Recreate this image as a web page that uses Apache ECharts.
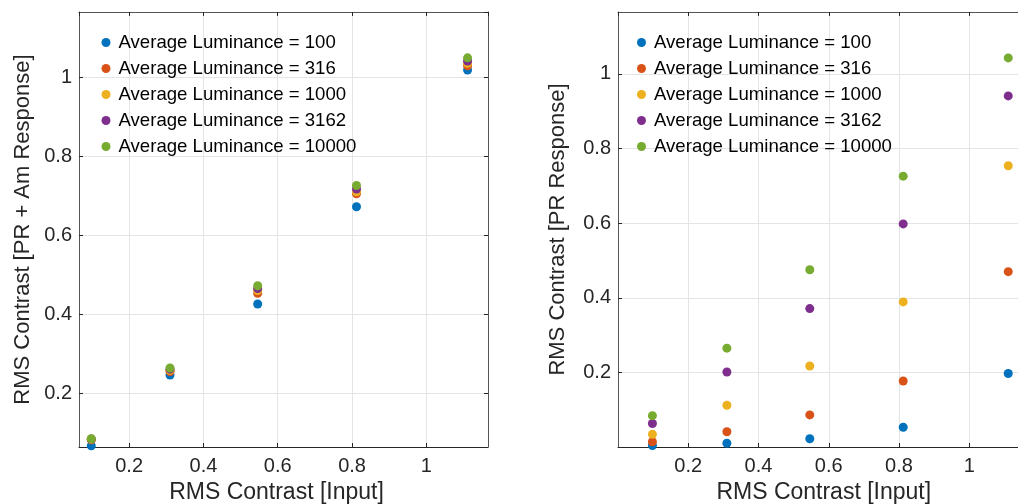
<!DOCTYPE html>
<html>
<head>
<meta charset="utf-8">
<script src="https://cdn.jsdelivr.net/npm/echarts@6/dist/echarts.min.js"></script>
<style>html,body{margin:0;padding:0;background:#fff}#c{width:1018px;height:504px}</style>
</head>
<body>
<div id="c"></div>
<script>
// ---- data ----
const seriesNames = ['Average Luminance = 100','Average Luminance = 316','Average Luminance = 1000','Average Luminance = 3162','Average Luminance = 10000'];
const contrastInput = [0.098, 0.31, 0.546, 0.812, 1.111];
// left panel: PR + Am response
const leftL100   = [0.068, 0.247, 0.427, 0.673, 1.019];
const leftL316   = [0.083, 0.256, 0.454, 0.706, 1.030];
const leftL1000  = [0.084, 0.259, 0.461, 0.711, 1.036];
const leftL3162  = [0.085, 0.262, 0.466, 0.718, 1.042];
const leftL10000 = [0.086, 0.265, 0.473, 0.727, 1.050];
// right panel: PR response
const rightL100   = [0.004, 0.010, 0.022, 0.053, 0.197];
const rightL316   = [0.014, 0.041, 0.086, 0.177, 0.470];
const rightL1000  = [0.034, 0.112, 0.217, 0.389, 0.754];
const rightL3162  = [0.063, 0.201, 0.371, 0.598, 0.941];
const rightL10000 = [0.084, 0.265, 0.475, 0.726, 1.043];
const leftSets = [leftL100, leftL316, leftL1000, leftL3162, leftL10000];
const rightSets = [rightL100, rightL316, rightL1000, rightL3162, rightL10000];
const colors = ['#0072BD','#D95319','#EDB120','#7E2F8E','#77AC30'];

const FONT = 'Liberation Sans, Arial, Helvetica, sans-serif';
const AX = '#262626';
const GRIDC = '#e4e4e4';

function pts(xs, ys){ return xs.map((x,i)=>[x, ys[i]]); }
function fmt(v){ const r=Math.round(v*10)/10; return (Math.abs(v-r)<1e-6 && Math.abs(r*5-Math.round(r*5))<1e-6) ? String(r) : ''; }
function tickOpts(min, interval){
  // left panel: min is not a multiple of 0.2, so let the scale pick nice ticks itself
  return interval ? {interval} : {splitNumber:5};
}

function mainX(gridIndex, min, max, interval, shift){
  return Object.assign({
    gridIndex, type:'value', min, max, position:'bottom',
    name:'RMS Contrast [Input]', nameLocation:'middle', nameGap:31,
    nameTextStyle:{fontFamily:FONT, fontSize:23, color:AX, padding:[0, shift*2, 0, 0]},
    axisLine:{show:true, onZero:false, lineStyle:{color:AX, width:1}},
    axisTick:{show:true, inside:true, length:4, lineStyle:{color:AX}},
    axisLabel:{fontFamily:FONT, fontSize:20, color:AX, margin:9, showMinLabel:false, showMaxLabel:false, formatter:fmt},
    splitLine:{show:true, lineStyle:{color:GRIDC, width:1}}
  }, tickOpts(min, interval));
}
function topX(gridIndex, min, max, interval){
  return Object.assign({
    gridIndex, type:'value', min, max, position:'top',
    axisLine:{show:true, onZero:false, lineStyle:{color:'#555', width:1}},
    axisTick:{show:true, inside:true, length:4, lineStyle:{color:AX}},
    axisLabel:{show:false}, splitLine:{show:false}
  }, tickOpts(min, interval));
}
function mainY(gridIndex, min, max, interval, name, gap){
  return Object.assign({
    gridIndex, type:'value', min, max, position:'left',
    name, nameLocation:'middle', nameGap:gap, nameRotate:90,
    nameTextStyle:{fontFamily:FONT, fontSize:22, color:AX},
    axisLine:{show:true, onZero:false, lineStyle:{color:'#555', width:1}},
    axisTick:{show:true, inside:true, length:4, lineStyle:{color:AX}},
    axisLabel:{fontFamily:FONT, fontSize:20, color:AX, margin:7, showMinLabel:false, showMaxLabel:false, formatter:fmt},
    splitLine:{show:true, lineStyle:{color:GRIDC, width:1}}
  }, tickOpts(min, interval));
}
function rightY(gridIndex, min, max, interval){
  return Object.assign({
    gridIndex, type:'value', min, max, position:'right',
    axisLine:{show:true, onZero:false, lineStyle:{color:'#555', width:1}},
    axisTick:{show:true, inside:true, length:4, lineStyle:{color:AX}},
    axisLabel:{show:false}, splitLine:{show:false}
  }, tickOpts(min, interval));
}

const LMIN = 0.065, LMAX = 1.166;
const series = [];
seriesNames.forEach((n,i)=>{
  series.push({name:n, type:'scatter', xAxisIndex:0, yAxisIndex:0, symbol:'circle', symbolSize:9, clip:false,
    itemStyle:{color:colors[i], opacity:1}, data:pts(contrastInput, leftSets[i])});
});
seriesNames.forEach((n,i)=>{
  series.push({name:n, type:'scatter', xAxisIndex:1, yAxisIndex:1, symbol:'circle', symbolSize:9, clip:false,
    itemStyle:{color:colors[i], opacity:1}, data:pts(contrastInput, rightSets[i])});
});

const legendBase = {
  orient:'vertical', itemWidth:15, itemHeight:9, itemGap:7, icon:'circle',
  textStyle:{fontFamily:FONT, fontSize:18.6, color:'#000'}, data:seriesNames, selectedMode:false
};

const option = {
  animation:false,
  backgroundColor:'#fff',
  grid:[
    {left:79, top:12, width:409, height:435, containLabel:false, outerBoundsMode:'none'},
    {left:618, top:12, width:421.5, height:435, containLabel:false, outerBoundsMode:'none'}
  ],
  xAxis:[ mainX(0, LMIN, LMAX, null, 7), mainX(1, 0, 1.2, 0.2, 5), topX(0, LMIN, LMAX, null), topX(1, 0, 1.2, 0.2) ],
  yAxis:[ mainY(0, LMIN, LMAX, null, 'RMS Contrast [PR + Am Response]', 45), mainY(1, 0, 1.166, 0.2, 'RMS Contrast [PR Response]', 49), rightY(0, LMIN, LMAX, null) ],
  legend:[
    Object.assign({left:96.5, top:28}, legendBase),
    Object.assign({left:632, top:28}, legendBase)
  ],
  series
};
const chart = echarts.init(document.getElementById('c'), null, {renderer:'canvas'});
chart.setOption(option);
</script>
</body>
</html>
